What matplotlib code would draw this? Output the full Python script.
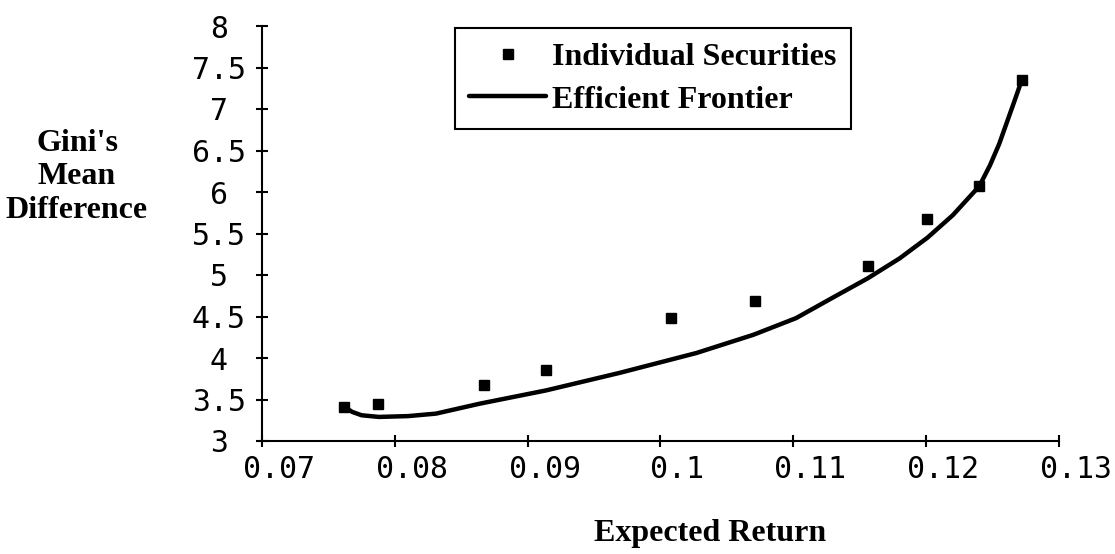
import numpy as np
import matplotlib
matplotlib.use('Agg')
import matplotlib.pyplot as plt
import matplotlib.transforms as mtransforms

# individual securities (expected return, Gini's mean difference)
sec_return = [0.0762, 0.0787, 0.0867, 0.0914, 0.1008, 0.1071, 0.1156, 0.1201, 0.1240, 0.1272]
sec_gini = [3.41, 3.45, 3.67, 3.86, 4.48, 4.69, 5.11, 5.67, 6.07, 7.35]

# efficient frontier
frontier_return = [0.0762, 0.0768, 0.0775, 0.0788, 0.0810, 0.0831, 0.0864, 0.0914, 0.0969, 0.1027,
                   0.1070, 0.1102, 0.1130, 0.1156, 0.1180, 0.1201, 0.1220, 0.1240,
                   0.1248, 0.1255, 0.1261, 0.1267, 0.1272]
frontier_gini = [3.41, 3.35, 3.31, 3.29, 3.30, 3.33, 3.45, 3.61, 3.82, 4.06,
                 4.28, 4.48, 4.73, 4.96, 5.20, 5.45, 5.72, 6.07,
                 6.32, 6.58, 6.85, 7.12, 7.35]

x_ticks = [0.07, 0.08, 0.09, 0.1, 0.11, 0.12, 0.13]
x_labels = ['0.07', '0.08', '0.09', '0.1', '0.11', '0.12', '0.13']
y_ticks = [3, 3.5, 4, 4.5, 5, 5.5, 6, 6.5, 7, 7.5, 8]
y_labels = ['3', '3.5', '4', '4.5', '5', '5.5', '6', '6.5', '7', '7.5', '8']

serif = 'Liberation Serif'
mono = 'DejaVu Sans Mono'

W, H = 1115, 554
fig = plt.figure(figsize=(W / 100, H / 100), dpi=100)
ax = fig.add_axes([262 / W, 1 - 441 / H, (1059 - 262) / W, (441 - 26) / H])

ax.plot(frontier_return, frontier_gini, color='black', lw=3.2,
        solid_joinstyle='round', solid_capstyle='round', label='Efficient Frontier', zorder=2)
ax.plot(sec_return, sec_gini, linestyle='none', marker='s', markersize=6.5,
        color='black', label='Individual Securities', zorder=3)

ax.set_xlim(0.07, 0.13)
ax.set_ylim(3, 8)

for side in ['top', 'right']:
    ax.spines[side].set_visible(False)
for side in ['left', 'bottom']:
    ax.spines[side].set_linewidth(1.5)

ax.set_xticks(x_ticks)
ax.set_xticklabels(x_labels, fontfamily=mono, fontsize=21.5)
ax.set_yticks(y_ticks)
ax.set_yticklabels(y_labels, fontfamily=mono, fontsize=21.5)
ax.tick_params(axis='both', direction='inout', length=8, width=1.5)
ax.tick_params(axis='x', pad=6)
ax.tick_params(axis='y', pad=27)
for lab in ax.get_yticklabels():
    lab.set_horizontalalignment('center')

# x tick labels sit a little right of their ticks
offset = mtransforms.ScaledTranslation(17 / 100, 0, fig.dpi_scale_trans)
for lab in ax.get_xticklabels():
    lab.set_transform(lab.get_transform() + offset)

fig.text(77 / W, 1 - 177 / H, "Gini's\nMean\nDifference", ha='center', va='center',
         fontfamily=serif, fontweight='bold', fontsize=23, linespacing=1.22)
fig.text(710 / W, 1 - 533 / H, 'Expected Return', ha='center', va='center',
         fontfamily=serif, fontweight='bold', fontsize=23)

handles, labels = ax.get_legend_handles_labels()
leg = ax.legend(handles[::-1], labels[::-1], loc='upper left',
                bbox_to_anchor=(455 / W, 1 - 28 / H), bbox_transform=fig.transFigure,
                prop={'family': serif, 'weight': 'bold', 'size': 23},
                frameon=True, fancybox=False, shadow=False, framealpha=1,
                borderpad=0.45, labelspacing=0.42, handlelength=2.4, handletextpad=0.2,
                borderaxespad=0)
leg.get_frame().set_edgecolor('black')
leg.get_frame().set_linewidth(1.5)

fig.savefig('out.png', dpi=100)
